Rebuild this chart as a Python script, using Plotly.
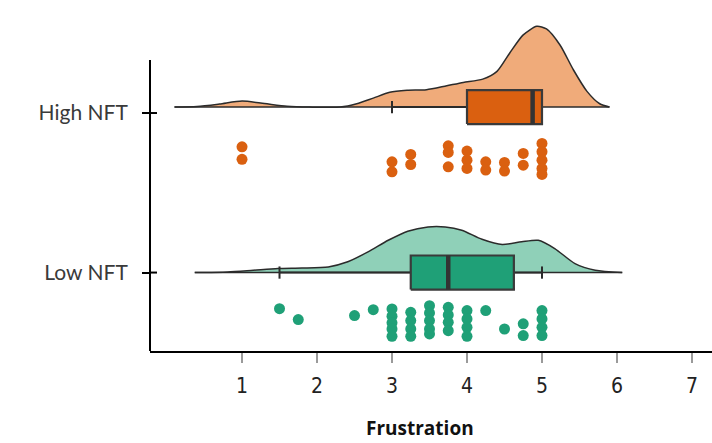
import plotly.graph_objects as go

# ---------------- data ----------------
groups = ["Low NFT", "High NFT"]
group_pos = [0.0, 1.0]

# density curves
high_dens_x = [0.1, 0.4, 0.7, 1.0, 1.3, 1.6, 1.9, 2.31, 2.53, 2.75, 2.97, 3.2, 3.46, 3.73,
               3.95, 4.21, 4.4, 4.57, 4.75, 4.93, 5.06, 5.24, 5.42, 5.6, 5.77, 5.9]
high_dens_y = [0, 0.003, 0.018, 0.036, 0.021, 0.005, 0, 0, 0.020, 0.054, 0.089, 0.101, 0.105,
               0.129, 0.149, 0.169, 0.216, 0.327, 0.436, 0.488, 0.472, 0.375, 0.224, 0.095, 0.020, 0]
low_dens_x = [0.37, 0.81, 1.15, 1.48, 1.8, 2.15, 2.41, 2.68, 2.95, 3.21, 3.48, 3.71, 3.93,
              4.2, 4.47, 4.73, 4.95, 5.17, 5.44, 5.71, 6.07]
low_dens_y = [0, 0.004, 0.014, 0.024, 0.027, 0.034, 0.065, 0.125, 0.195, 0.250, 0.276, 0.276,
              0.256, 0.201, 0.169, 0.186, 0.195, 0.145, 0.054, 0.014, 0]

# box statistics
high_box = dict(q1=4.0, median=4.875, q3=5.0, lowerfence=3.0, upperfence=5.0)
low_box = dict(q1=3.25, median=3.75, q3=4.625, lowerfence=1.5, upperfence=5.0)

# raw points (value, vertical jitter below the group line)
high_vals = [1, 1, 3, 3, 3.25, 3.25, 3.75, 3.75, 3.75, 4, 4, 4, 4.25, 4.25, 4.5, 4.5,
             4.75, 4.75, 5, 5, 5, 5, 5]
high_jit = [0.240, 0.316, 0.331, 0.391, 0.286, 0.347, 0.234, 0.274, 0.361, 0.266, 0.321, 0.371,
            0.331, 0.381, 0.335, 0.387, 0.280, 0.351, 0.220, 0.270, 0.321, 0.371, 0.407]
low_vals = [1.5, 1.75, 2.5, 2.75, 3, 3, 3, 3, 3, 3.25, 3.25, 3.25, 3.25,
            3.5, 3.5, 3.5, 3.5, 3.5, 3.75, 3.75, 3.75, 3.75, 4, 4, 4, 4,
            4.25, 4.5, 4.75, 4.75, 5, 5, 5, 5]
low_jit = [0.218, 0.284, 0.260, 0.224, 0.220, 0.264, 0.304, 0.341, 0.385, 0.240, 0.290, 0.341, 0.385,
           0.200, 0.244, 0.290, 0.341, 0.371, 0.210, 0.256, 0.301, 0.351, 0.230, 0.280, 0.331, 0.385,
           0.230, 0.341, 0.310, 0.381, 0.230, 0.280, 0.331, 0.381]

x_ticks = [1, 2, 3, 4, 5, 6, 7]

# ---------------- styles ----------------
ORANGE_FILL = "#F0AB7A"
ORANGE = "#DA6010"
GREEN_FILL = "#8FD0B8"
GREEN = "#1FA077"
DARK = "#2b2b2b"
BOX_HALF = 0.103
CAP_HALF = 0.037

fig = go.Figure()

def line(xs, ys, color=DARK, width=1.5):
    fig.add_trace(go.Scatter(x=xs, y=ys, mode="lines", line=dict(color=color, width=width),
                             hoverinfo="skip", showlegend=False))

def add_group(pos, dx, dy, fill, col, box, vals, jit):
    # baseline
    line([dx[0], dx[-1]], [pos, pos])
    # density
    fig.add_trace(go.Scatter(x=dx, y=[pos + v for v in dy], mode="lines",
                             line=dict(color=DARK, width=1.5, shape="spline", smoothing=0.7),
                             fill="tonexty", fillcolor=fill, hoverinfo="skip", showlegend=False))
    # whiskers + caps
    line([box["lowerfence"], box["q1"]], [pos, pos], width=2)
    line([box["q3"], box["upperfence"]], [pos, pos], width=2)
    for f in (box["lowerfence"], box["upperfence"]):
        line([f, f], [pos - CAP_HALF, pos + CAP_HALF], width=2)
    # box
    q1, q3 = box["q1"], box["q3"]
    fig.add_trace(go.Scatter(x=[q1, q3, q3, q1, q1],
                             y=[pos - BOX_HALF, pos - BOX_HALF, pos + BOX_HALF, pos + BOX_HALF, pos - BOX_HALF],
                             mode="lines", fill="toself", fillcolor=col,
                             line=dict(color="#3a3a3a", width=2.2), hoverinfo="skip", showlegend=False))
    # thick median
    line([box["median"], box["median"]], [pos - BOX_HALF, pos + BOX_HALF], color="#333333", width=4.5)
    # points
    fig.add_trace(go.Scatter(x=vals, y=[pos - j for j in jit], mode="markers",
                             marker=dict(color=col, size=11, line=dict(width=0)),
                             showlegend=False))

add_group(group_pos[1], high_dens_x, high_dens_y, ORANGE_FILL, ORANGE, high_box, high_vals, high_jit)
add_group(group_pos[0], low_dens_x, low_dens_y, GREEN_FILL, GREEN, low_box, low_vals, low_jit)

Y0, Y1 = -0.474, 1.647
tick_y = [0.0, 0.964]

shapes = [
    dict(type="line", xref="paper", yref="y", x0=0, x1=0, y0=Y0, y1=1.284,
         line=dict(color="black", width=2)),
]
for ty in tick_y:
    shapes.append(dict(type="line", xref="paper", yref="y", x0=0, x1=7 / 562, y0=ty, y1=ty,
                       line=dict(color="black", width=2)))

fig.update_layout(
    width=712, height=443,
    margin=dict(l=150, r=0, t=0, b=92),
    plot_bgcolor="white", paper_bgcolor="white",
    xaxis=dict(range=[-0.227, 7.267], tickvals=x_ticks, showgrid=False, zeroline=False,
               showline=True, linecolor="black", linewidth=2,
               ticks="outside", ticklen=10, tickwidth=1.5, tickcolor="#9a9a9a",
               ticklabelstandoff=5,
               tickfont=dict(family="DejaVu Sans Condensed, DejaVu Sans", size=21, color="#222222")),
    yaxis=dict(range=[Y0, Y1], tickvals=tick_y, ticktext=["Low NFT", "High NFT"],
               showgrid=False, zeroline=False, showline=False,
               ticks="outside", ticklen=7, tickwidth=2, tickcolor="black",
               ticklabelstandoff=10,
               tickfont=dict(family="Lato", size=21, color="#3a3a3a")),
    shapes=shapes,
    annotations=[dict(text="<b>Frustration</b>", xref="paper", yref="paper",
                      x=0.48, y=-0.22, xanchor="center", yanchor="middle", showarrow=False,
                      font=dict(family="Open Sans", size=19, color="#111111"))],
)

fig.write_html("out.html")
